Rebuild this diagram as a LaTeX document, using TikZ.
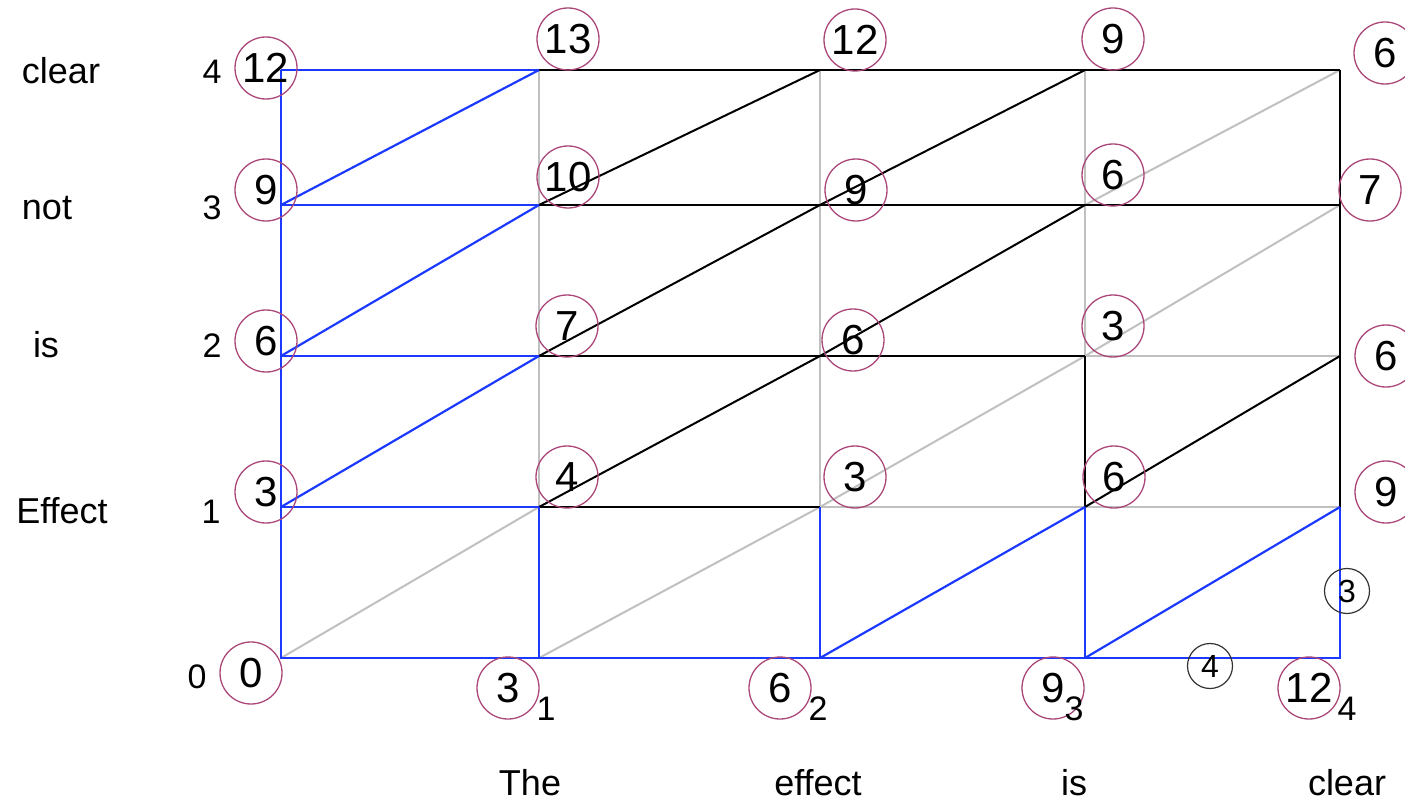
\documentclass[tikz,border=0pt]{standalone}
\usepackage{fontspec}
\setmainfont{Liberation Sans}
\usepackage{xcolor}
\usepackage{tikz}
\usetikzlibrary{positioning}
\definecolor{plum}{RGB}{170,70,120}
\definecolor{pathblue}{RGB}{28,58,255}
\definecolor{edgegray}{RGB}{192,192,192}

\begin{document}
\begin{tikzpicture}[x=1pt,y=-1pt,
cost/.style={circle,draw=plum,line width=1.3pt,minimum size=62pt,inner sep=0pt,font=\fontsize{42}{42}\selectfont},
minor/.style={circle,draw=black!80,line width=1.2pt,minimum size=45pt,inner sep=0pt,font=\fontsize{32}{32}\selectfont},
word/.style={anchor=base,font=\fontsize{36}{36}\selectfont},
index/.style={anchor=base,font=\fontsize{34}{34}\selectfont},
best/.style={pathblue,line width=2.2pt},
unused/.style={edgegray,line width=2pt},
kept/.style={black,line width=2pt}]
\useasboundingbox(0,0)rectangle(1405,802);
% lattice points g<col><row>
\foreach \c/\x in {0/281,1/539,2/820,3/1085,4/1340}
\foreach \r/\y in {0/658,1/507,2/356,3/205,4/70}
\coordinate(g\c\r)at(\x,\y);
% grey edges
\draw[unused](g11)--(g14);
\draw[unused](g21)--(g24);
\draw[unused](g32)--(g34);
\draw[unused](g21)--(g41);
\draw[unused](g32)--(g42);
\draw[unused](g00)--(g11);
\draw[unused](g10)--(g21)--(g32)--(g43);
\draw[unused](g33)--(g44);
% black edges
\draw[kept](g14)--(g44);
\draw[kept](g13)--(g43);
\draw[kept](g12)--(g32);
\draw[kept](g11)--(g21);
\draw[kept](g31)--(g32);
\draw[kept](g41)--(g44);
\draw[kept](g11)--(g22)--(g33);
\draw[kept](g12)--(g23)--(g34);
\draw[kept](g13)--(g24);
\draw[kept](g31)--(g42);
% blue edges
\draw[best](g04)--(g00)--(g40)--(g41);
\foreach \r in {1,2,3,4}\draw[best](g0\r)--(g1\r);
\foreach \c in {1,2,3}\draw[best](g\c0)--(g\c1);
\draw[best](g01)--(g12);
\draw[best](g02)--(g13);
\draw[best](g03)--(g14);
\draw[best](g20)--(g31);
\draw[best](g30)--(g41);
% costs
\node[cost](c04)at(266,68){12};
\node[cost](c03)at(266,190){9};
\node[cost](c02)at(266,341){6};
\node[cost](c01)at(266,492){3};
\node[cost](c00)at(251,673){0};
\node[cost](c14)at(568,39){13};
\node[cost](c13)at(568,177){10};
\node[cost](c12)at(567,326){7};
\node[cost](c11)at(567,477){4};
\node[cost](c10)at(508,688){3};
\node[cost](c24)at(855,40){12};
\node[cost](c23)at(856,190){9};
\node[cost](c22)at(853,340){6};
\node[cost](c21)at(855,477){3};
\node[cost](c20)at(780,688){6};
\node[cost](c34)at(1113,39){9};
\node[cost](c33)at(1113,175){6};
\node[cost](c32)at(1113,326){3};
\node[cost](c31)at(1114,477){6};
\node[cost](c30)at(1053,688){9};
\node[cost](c44)at(1385,53){6};
\node[cost](c43)at(1370,190){7};
\node[cost](c42)at(1386,356){6};
\node[cost](c41)at(1386,492){9};
\node[cost](c40)at(1309,688){12};
\node[minor](m1)at(1347,591){3};
\node[minor](m2)at(1210,666){4};
% column indices and words
\node[index](i1)at(546,720){1};
\node[index](i2)at(818,720){2};
\node[index](i3)at(1074,720){3};
\node[index](i4)at(1347,720){4};
\node[word](wThe)at(530,795){The};
\node[word](wEffect)at(818,795){effect};
\node[word](wIs)at(1074,795){is};
\node[word](wClear)at(1347,795){clear};
% row indices and words
\node[index](j4)at(212,84){4};
\node[index](j3)at(212,220){3};
\node[index](j2)at(212,357){2};
\node[index](j1)at(211,523){1};
\node[index](j0)at(197,688){0};
\node[word](vClear)at(61,84){clear};
\node[word](vNot)at(47,220){not};
\node[word](vIs)at(46,357){is};
\node[word](vEffect)at(62,523){Effect};
\end{tikzpicture}
\end{document}
